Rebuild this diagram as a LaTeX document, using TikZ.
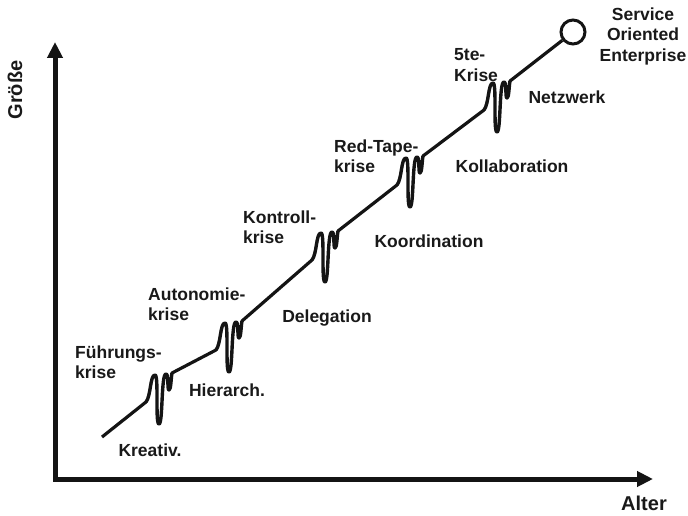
\documentclass[tikz,border=0pt]{standalone}
\usepackage{fontspec}
\setmainfont{Liberation Sans}
\usetikzlibrary{arrows.meta}
\newcommand{\mysquig}[1]{%
  \draw[squig, shift={(#1)}] (0,0) .. controls (5,-6) and (4,-27) .. (9,-27)
    .. controls (13,-27) and (9,22) .. (13,22)
    .. controls (17,22) and (15,-28) .. (20,-28)
    .. controls (23,-28) and (21,-12) .. (23,-12)
    .. controls (25,-12) and (25,-24) .. (26,-29);}
\begin{document}
\begin{tikzpicture}[x=1pt,y=-1pt,
  lbl/.style={font=\bfseries\fontsize{17.5}{20.5}\selectfont, text=black!90, inner sep=0pt},
  biglbl/.style={font=\bfseries\fontsize{20}{24}\selectfont, text=black!90, inner sep=0pt},
  axis/.style={line width=5pt, line join=miter, black!92},
  mainline/.style={line width=3.2pt, black!92},
  squig/.style={line width=3.4pt, black!92, line cap=round, line join=round}]
\useasboundingbox (0,0) rectangle (688,516);
% axes
\coordinate (ytop) at (55,42);
\coordinate (origin) at (55,479);
\coordinate (xend) at (653,479);
\draw[axis,{Triangle[length=16pt,width=15pt]}-{Triangle[length=16pt,width=15pt]}] (ytop) -- (origin) -- (xend);
\node[biglbl, rotate=90] (groesse) at (15,90) {Größe};
\node[biglbl] (alter) at (644,503) {Alter};
% path points
\coordinate (s0) at (102,437);
\coordinate (a1) at (146,402); \coordinate (b1) at (172,373);
\coordinate (a2) at (216,350); \coordinate (b2) at (242,321);
\coordinate (a3) at (312,260); \coordinate (b3) at (338,231);
\coordinate (a4) at (397,185); \coordinate (b4) at (423,156);
\coordinate (a5) at (484,110); \coordinate (b5) at (510,81);
\node[draw, circle, line width=3pt, black!92, minimum size=24pt, inner sep=0pt] (soe) at (573,32) {};
% straight segments
\draw[mainline] (s0) -- (a1);
\draw[mainline] (b1) -- (a2);
\draw[mainline] (b2) -- (a3);
\draw[mainline] (b3) -- (a4);
\draw[mainline] (b4) -- (a5);
\draw[mainline] (b5) -- (soe);
% squiggles
\mysquig{a1}
\mysquig{a2}
\mysquig{a3}
\mysquig{a4}
\mysquig{a5}
% labels
\node[lbl] (kreativ) at (150,450) {Kreativ.};
\node[lbl] (hierarch) at (227,390) {Hierarch.};
\node[lbl, align=left, anchor=west] (fuehrung) at (75,362) {Führungs-\\krise};
\node[lbl, align=left, anchor=west] (autonomie) at (148,304) {Autonomie-\\krise};
\node[lbl] (delegation) at (327,318) {Delegation};
\node[lbl, align=left, anchor=west] (kontroll) at (243,227) {Kontroll-\\krise};
\node[lbl] (koordination) at (429,241) {Koordination};
\node[lbl, align=left, anchor=west] (redtape) at (334,156) {Red-Tape-\\krise};
\node[lbl] (kollaboration) at (512,166) {Kollaboration};
\node[lbl, align=left, anchor=west] (fuenfte) at (454,65) {5te-\\Krise};
\node[lbl] (netzwerk) at (567,97) {Netzwerk};
\node[lbl, align=center] (service) at (643,36) {Service\\Oriented\\Enterprise};
\end{tikzpicture}
\end{document}
